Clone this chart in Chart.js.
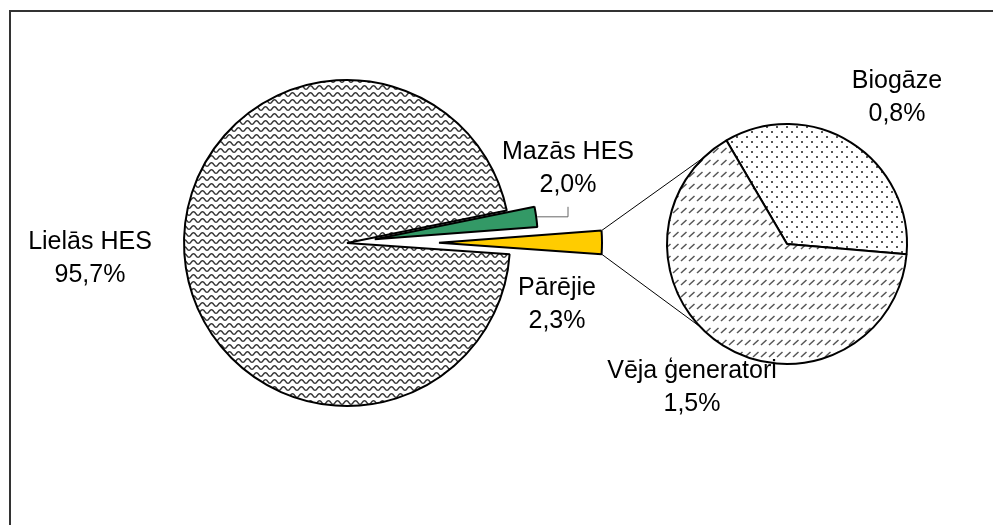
<!DOCTYPE html>
<html>
<head>
<meta charset="utf-8">
<script src="https://cdn.jsdelivr.net/npm/chart.js@4.4.1/dist/chart.umd.min.js"></script>
<style>
  body { margin: 0; background: #fff; }
  #wrap { position: relative; width: 993px; height: 525px; }
  #wrap canvas { position: absolute; left: 0; top: 0; }
</style>
</head>
<body>
<div id="wrap">
  <canvas id="mainPie" width="993" height="525"></canvas>
  <canvas id="subPie" width="993" height="525"></canvas>
</div>
<script>
// main pie
const mainLabels = ['Lielās HES', 'Mazās HES', 'Pārējie'];
const mainValues = [95.7, 2.0, 2.3];
// second pie = what "Pārējie" is made of
const subLabels = ['Biogāze', 'Vēja ģeneratori'];
const subValues = [0.8, 1.5];

// how far each main slice is pulled out (px)
const explode = [0, 28, 92];
// where the label text sits, relative to the pie centre
const mainLabelPos = [[-257, 15], [221, -75], [210, 61]];
const subLabelPos = [[110, -147], [-95, 143]];

const FONT = '25px "Liberation Sans", Arial, sans-serif';

function pct(v) {
  return v.toFixed(1).replace('.', ',') + '%';
}

// hatch fills, like the old excel patterns
function wavePattern() {
  const c = document.createElement('canvas');
  c.width = 9; c.height = 7;
  const g = c.getContext('2d');
  g.fillStyle = '#fff';
  g.fillRect(0, 0, 9, 7);
  g.strokeStyle = '#333';
  g.lineWidth = 1.4;
  g.beginPath();
  for (let x = -1; x <= 10; x += 0.5) {
    const y = 3.5 + 1.8 * Math.cos(2 * Math.PI * x / 9);
    if (x === -1) g.moveTo(x, y); else g.lineTo(x, y);
  }
  g.stroke();
  return g.createPattern(c, 'repeat');
}

function dotPattern() {
  const c = document.createElement('canvas');
  c.width = 10; c.height = 10;
  const g = c.getContext('2d');
  g.fillStyle = '#fff';
  g.fillRect(0, 0, 10, 10);
  g.fillStyle = '#555';
  g.fillRect(1, 1, 2, 2);
  g.fillRect(6, 6, 2, 2);
  return g.createPattern(c, 'repeat');
}

function dashPattern() {
  const c = document.createElement('canvas');
  c.width = 8; c.height = 12;
  const g = c.getContext('2d');
  g.fillStyle = '#fff';
  g.fillRect(0, 0, 8, 12);
  g.strokeStyle = '#555';
  g.lineWidth = 1.5;
  g.beginPath();
  g.moveTo(1, 9);
  g.lineTo(6.5, 4);
  g.stroke();
  return g.createPattern(c, 'repeat');
}

function drawLabel(ctx, x, y, name, value) {
  ctx.save();
  ctx.font = FONT;
  ctx.fillStyle = '#000';
  ctx.textAlign = 'center';
  ctx.textBaseline = 'middle';
  ctx.fillText(name, x, y - 16);
  ctx.fillText(pct(value), x, y + 17);
  ctx.restore();
}

Chart.defaults.font.family = '"Liberation Sans", Arial, sans-serif';

const mainPlugin = {
  id: 'mainExtras',
  afterDatasetsUpdate(chart) {
    // pull slices out from the centre
    chart.getDatasetMeta(0).data.forEach(function (arc, i) {
      const mid = (arc.startAngle + arc.endAngle) / 2;
      arc.x += Math.cos(mid) * explode[i];
      arc.y += Math.sin(mid) * explode[i];
    });
  },
  afterDraw(chart) {
    const ctx = chart.ctx;
    const arcs = chart.getDatasetMeta(0).data;
    const c = arcs[0];
    // leader line for Mazās HES
    const g = arcs[1];
    const mid = (g.startAngle + g.endAngle) / 2;
    const px = g.x + Math.cos(mid) * g.outerRadius;
    const py = g.y + Math.sin(mid) * g.outerRadius;
    const lx = c.x + mainLabelPos[1][0];
    ctx.save();
    ctx.strokeStyle = '#666';
    ctx.lineWidth = 1;
    ctx.beginPath();
    ctx.moveTo(px + 1, py);
    ctx.lineTo(lx, py);
    ctx.lineTo(lx, py - 10);
    ctx.stroke();
    ctx.restore();
    mainLabels.forEach(function (name, i) {
      drawLabel(ctx, c.x + mainLabelPos[i][0], c.y + mainLabelPos[i][1], name, mainValues[i]);
    });
  }
};

const mainChart = new Chart(document.getElementById('mainPie'), {
  type: 'pie',
  data: {
    labels: mainLabels,
    datasets: [{
      data: mainValues,
      backgroundColor: [wavePattern(), '#339966', '#ffcc00'],
      borderColor: '#000',
      borderWidth: 2
    }]
  },
  options: {
    responsive: false,
    animation: false,
    rotation: 94,
    radius: 163,
    layout: { padding: { left: 0, right: 299, top: 0, bottom: 39 } },
    plugins: { legend: { display: false }, tooltip: { enabled: false } },
    events: []
  },
  plugins: [mainPlugin]
});

// connector angles on the small pie (deg)
const connectAngles = [-133.6, 136.4];

const subPlugin = {
  id: 'subExtras',
  afterDraw(chart) {
    const ctx = chart.ctx;
    const s = chart.getDatasetMeta(0).data[0];
    const y = mainChart.getDatasetMeta(0).data[2];
    ctx.save();
    // lines from the "Pārējie" slice to the small pie
    ctx.strokeStyle = '#000';
    ctx.lineWidth = 1;
    [y.startAngle, y.endAngle].forEach(function (a, i) {
      const b = connectAngles[i] * Math.PI / 180;
      ctx.beginPath();
      ctx.moveTo(y.x + Math.cos(a) * y.outerRadius, y.y + Math.sin(a) * y.outerRadius);
      ctx.lineTo(s.x + Math.cos(b) * s.outerRadius, s.y + Math.sin(b) * s.outerRadius);
      ctx.stroke();
    });
    // chart frame
    ctx.strokeStyle = '#333';
    ctx.lineWidth = 2;
    ctx.beginPath();
    ctx.moveTo(10, 525);
    ctx.lineTo(10, 11);
    ctx.lineTo(993, 11);
    ctx.stroke();
    ctx.restore();
    subLabels.forEach(function (name, i) {
      drawLabel(ctx, s.x + subLabelPos[i][0], s.y + subLabelPos[i][1], name, subValues[i]);
    });
  }
};

const subChart = new Chart(document.getElementById('subPie'), {
  type: 'pie',
  data: {
    labels: subLabels,
    datasets: [{
      data: subValues,
      backgroundColor: [dotPattern(), dashPattern()],
      borderColor: '#000',
      borderWidth: 2
    }]
  },
  options: {
    responsive: false,
    animation: false,
    rotation: -30.3,
    radius: 120,
    layout: { padding: { left: 581, right: 0, top: 0, bottom: 37 } },
    plugins: { legend: { display: false }, tooltip: { enabled: false } },
    events: []
  },
  plugins: [subPlugin]
});
</script>
</body>
</html>
